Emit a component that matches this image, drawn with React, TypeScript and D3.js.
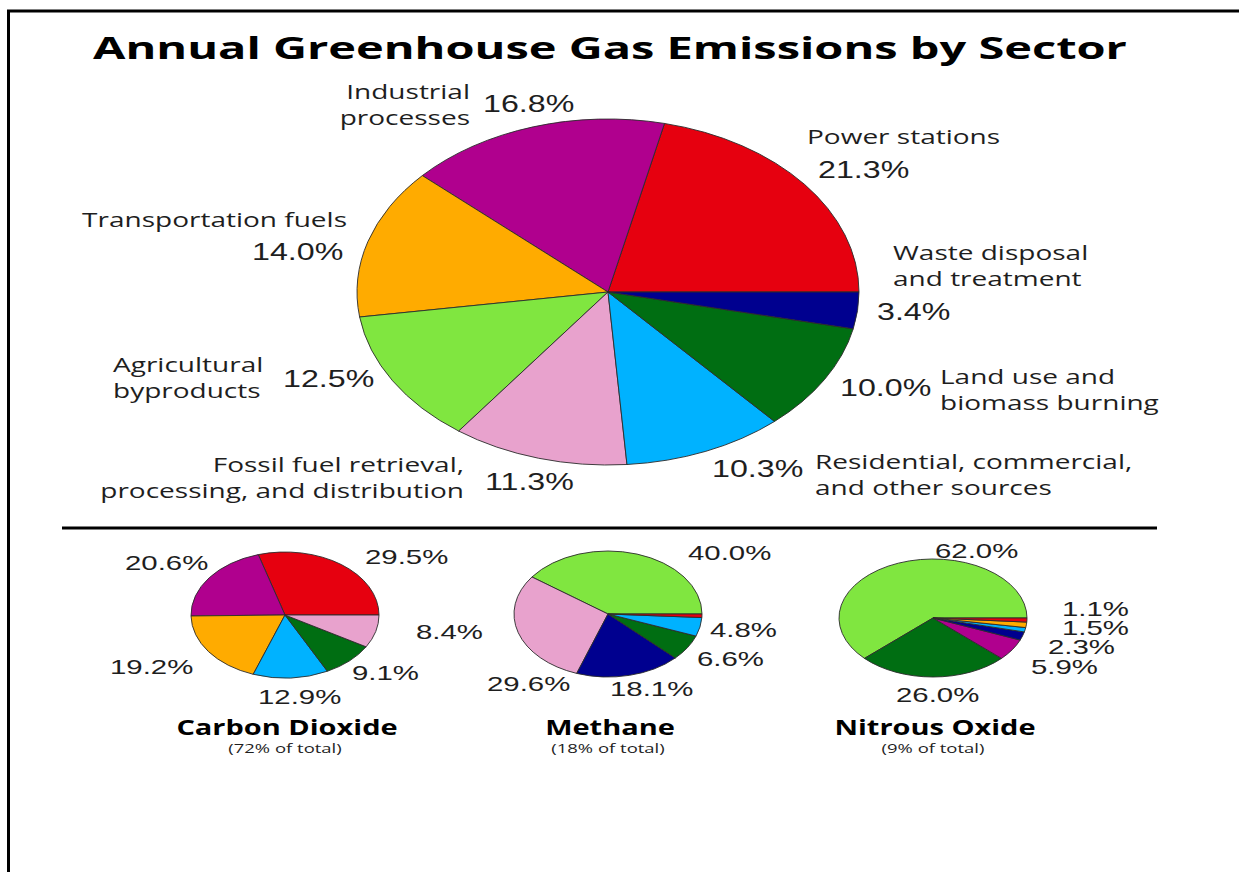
import React from 'react'
import * as d3 from 'd3'

const W = 1239
const H = 872
// the source picture is stretched sideways, so text gets the same squash
const SX = 1.4

const title = "Annual Greenhouse Gas Emissions by Sector"

const colors: Record<string, string> = {
  power: "#e6000f",
  industrial: "#b0008e",
  transport: "#ffab00",
  agri: "#80e640",
  fossil: "#e8a2cd",
  residential: "#00b2ff",
  landuse: "#006e12",
  waste: "#00008f",
}

// main pie
const mainSectors = ["power", "industrial", "transport", "agri", "fossil", "residential", "landuse", "waste"]
const mainValues = [21.3, 16.8, 14.0, 12.5, 11.3, 10.3, 10.0, 3.4]
const mainNames = [
  ["Power stations"],
  ["Industrial", "processes"],
  ["Transportation fuels"],
  ["Agricultural", "byproducts"],
  ["Fossil fuel retrieval,", "processing, and distribution"],
  ["Residential, commercial,", "and other sources"],
  ["Land use and", "biomass burning"],
  ["Waste disposal", "and treatment"],
]

// small pies
const co2Sectors = ["power", "industrial", "transport", "residential", "landuse", "fossil"]
const co2Values = [29.5, 20.6, 19.2, 12.9, 9.1, 8.4]
const ch4Sectors = ["agri", "fossil", "waste", "landuse", "residential", "power"]
const ch4Values = [40.0, 29.6, 18.1, 6.6, 4.8, 0.9]
const n2oSectors = ["agri", "landuse", "industrial", "waste", "residential", "transport", "power"]
const n2oValues = [62.0, 26.0, 5.9, 2.3, 1.2, 1.5, 1.1]

const gasNames = ["Carbon Dioxide", "Methane", "Nitrous Oxide"]
const gasShares = ["(72% of total)", "(18% of total)", "(9% of total)"]

// label layout (pixel positions)
const mainNamePos = [
  { x: 807, y: 144, a: "start" },
  { x: 470, y: 99, a: "end" },
  { x: 347, y: 227, a: "end" },
  { x: 113, y: 372, a: "start" },
  { x: 464, y: 472, a: "end" },
  { x: 815, y: 469, a: "start" },
  { x: 940, y: 384, a: "start" },
  { x: 893, y: 260, a: "start" },
]
const mainPctPos = [
  { x: 818, y: 178 }, { x: 483, y: 112 }, { x: 252, y: 260 }, { x: 283, y: 387 },
  { x: 485, y: 490 }, { x: 712, y: 477 }, { x: 840, y: 396 }, { x: 877, y: 320 },
]
const co2PctPos = [
  { x: 365, y: 564 }, { x: 125, y: 570 }, { x: 110, y: 674 }, { x: 258, y: 704 }, { x: 352, y: 680 }, { x: 416, y: 639 },
]
const ch4PctPos = [
  { x: 688, y: 560 }, { x: 487, y: 691 }, { x: 610, y: 696 }, { x: 697, y: 666 }, { x: 710, y: 637 }, null,
]
const n2oPctPos = [
  { x: 935, y: 558 }, { x: 896, y: 702 }, { x: 1031, y: 674 }, { x: 1048, y: 654 }, null, { x: 1062, y: 635 }, { x: 1062, y: 616 },
]

const fmt = (v: number) => d3.format(".1f")(v) + "%"

const pie = d3.pie<number>()
  .sort(null)
  .value(d => d)
  .startAngle(Math.PI / 2)
  .endAngle(Math.PI / 2 - 2 * Math.PI)

function Pie({ cx, cy, rx, ry, values, sectors }: any) {
  const arc = d3.arc<d3.PieArcDatum<number>>().innerRadius(0).outerRadius(ry)
  const arcs = pie(values)
  return (
    <g transform={`translate(${cx},${cy}) scale(${rx / ry},1)`}>
      {arcs.map((a, i) => (
        <path key={i} d={arc(a) || ""} fill={colors[sectors[i]]}
          stroke="#2b2b2b" strokeWidth={0.9} vectorEffect="non-scaling-stroke" strokeLinejoin="round" />
      ))}
    </g>
  )
}

function T({ x, y, anchor = "start", size, weight = 400, family, fill = "#1e1e1e", sx = SX, children }: any) {
  return (
    <text transform={`translate(${x},${y}) scale(${sx},1)`} textAnchor={anchor}
      fontSize={size} fontWeight={weight} fontFamily={family} fill={fill}>{children}</text>
  )
}

const LABEL_FONT = "'Open Sans', sans-serif"
const PCT_FONT = "'Liberation Sans', Arial, sans-serif"

function PctLabels({ values, pos, size }: any) {
  return (
    <g>
      {values.map((v: number, i: number) => pos[i] ? (
        <T key={i} x={pos[i].x} y={pos[i].y} size={size} family={PCT_FONT}>{fmt(v)}</T>
      ) : null)}
    </g>
  )
}

export default function App() {
  const small = [
    { cx: 285, cy: 615, ry: 63, values: co2Values, sectors: co2Sectors, pos: co2PctPos },
    { cx: 608, cy: 614, ry: 63, values: ch4Values, sectors: ch4Sectors, pos: ch4PctPos },
    { cx: 933, cy: 618, ry: 59, values: n2oValues, sectors: n2oSectors, pos: n2oPctPos },
  ]
  return (
    <svg width={W} height={H} style={{ position: "absolute", left: 0, top: 0, background: "#fff" }}>
      <rect x={8.5} y={11} width={1400} height={1000} fill="none" stroke="#000" strokeWidth={3} />

      <T x={610} y={59} anchor="middle" size={31} weight={700} family={LABEL_FONT} fill="#000" sx={1.515}>{title}</T>

      <Pie cx={608} cy={292} rx={251} ry={173} values={mainValues} sectors={mainSectors} />
      {mainNames.map((lines, i) => (
        <g key={i}>
          {lines.map((ln, j) => (
            <T key={j} x={mainNamePos[i].x} y={mainNamePos[i].y + j * 26} anchor={mainNamePos[i].a}
              size={20} family={LABEL_FONT}>{ln}</T>
          ))}
        </g>
      ))}
      <PctLabels values={mainValues} pos={mainPctPos} size={23} />

      <line x1={62} x2={1157} y1={528} y2={528} stroke="#000" strokeWidth={3} />

      {small.map((s, k) => (
        <g key={k}>
          <Pie cx={s.cx} cy={s.cy} rx={94} ry={s.ry} values={s.values} sectors={s.sectors} />
          <PctLabels values={s.values} pos={s.pos} size={21} />
          <T x={s.cx + 2} y={735} anchor="middle" size={20.7} weight={700} family={LABEL_FONT} fill="#000">{gasNames[k]}</T>
          <T x={s.cx} y={753} anchor="middle" size={13.2} family={LABEL_FONT}>{gasShares[k]}</T>
        </g>
      ))}
    </svg>
  )
}
